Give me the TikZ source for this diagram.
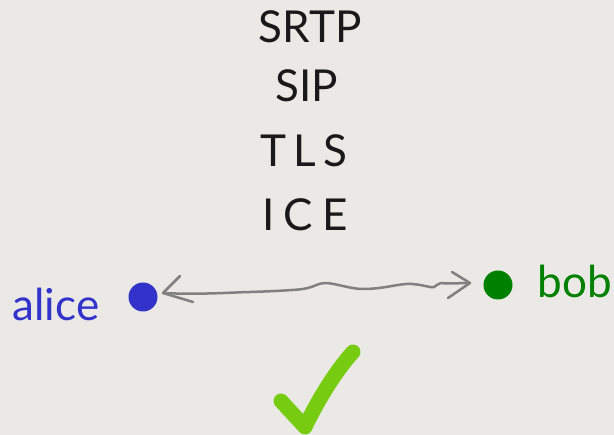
\documentclass[tikz,border=0pt]{standalone}
\usepackage{fontspec}
\setmainfont{Lato}
\definecolor{bg}{HTML}{EAE9E5}
\definecolor{aliceblue}{HTML}{3333CC}
\definecolor{bobgreen}{HTML}{008000}
\definecolor{linkgray}{HTML}{808080}
\definecolor{checkgreen}{HTML}{77CC11}
\tikzset{
  proto/.style={text=black!90, font=\fontsize{44}{44}\selectfont, inner sep=0pt},
  dot/.style={circle, inner sep=0pt, minimum size=29pt},
  link/.style={draw=linkgray, line width=2.5pt, line cap=round, line join=round},
}
\begin{document}
\begin{tikzpicture}[x=1pt,y=-1pt]
\fill[bg] (0,0) rectangle (614,435);
\useasboundingbox (0,0) rectangle (614,435);
\node[proto] (srtp) at (310,27) {SRTP};
\node[proto] (sip) at (307,86) {SIP};
\node[proto] (tls) at (304,151) {T\kern7pt L\kern7pt S};
\node[proto] (ice) at (305,215) {I\kern9pt C\kern9pt E};
\node[dot, fill=aliceblue] (adot) at (143,297) {};
\node[dot, fill=bobgreen] (bdot) at (498,285) {};
\node[text=aliceblue, font=\fontsize{44}{44}\selectfont, inner sep=0pt, anchor=base] (alice) at (56,321) {alice};
\node[text=bobgreen, font=\fontsize{44}{44}\selectfont, inner sep=0pt, anchor=base] (bob) at (575,298) {bob};
\coordinate (ltip) at (163,293);
\coordinate (rtip) at (470,283);
\draw[link] (ltip) .. controls (200,295) and (240,292) .. (250,292)
  .. controls (280,291) and (295,290) .. (303,289)
  .. controls (315,287) and (318,283) .. (325,283)
  .. controls (335,283) and (350,289) .. (363,289)
  .. controls (385,289) and (400,283) .. (412,284)
  .. controls (425,285) and (430,288) .. (434,287)
  .. controls (437,286) and (438,283) .. (441,283)
  .. controls (450,284) and (460,283) .. (rtip);
\draw[link] (180,276) -- (ltip) -- (193,302);
\draw[link] (452,272) -- (rtip) -- (448,298);
\coordinate (c1) at (281,401);
\coordinate (c2) at (305,427);
\coordinate (c3) at (353,352);
\draw[checkgreen, line width=15pt, line cap=round, line join=round] (c1) -- (c2) .. controls (318,400) and (335,372) .. (c3);
\end{tikzpicture}
\end{document}
